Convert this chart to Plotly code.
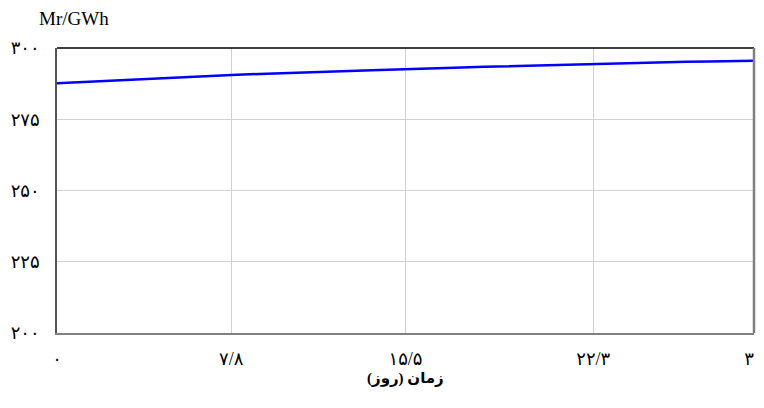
import plotly.graph_objects as go

days = list(range(32))
values = [287.6, 288.0, 288.4, 288.8, 289.1, 289.5, 289.9, 290.2, 290.6, 290.9,
          291.1, 291.4, 291.7, 291.9, 292.2, 292.5, 292.7, 292.9, 293.2, 293.4,
          293.6, 293.8, 294.1, 294.3, 294.6, 294.8, 294.9, 295.1, 295.2, 295.3,
          295.4, 295.5]

x_tickvals = [0, 7.75, 15.5, 23.85, 31]
x_ticktext = ["۰", "۷/۸", "۱۵/۵", "۲۲/۳", "۳۱"]
y_tickvals = [200, 225, 250, 275, 300]
y_ticktext = ["۲۰۰", "۲۲۵", "۲۵۰", "۲۷۵", "۳۰۰"]

font_fam = "Liberation Serif, DejaVu Serif, DejaVu Sans, serif"

fig = go.Figure()
fig.add_trace(go.Scatter(x=days, y=values, mode="lines",
                         line=dict(color="#0000ff", width=2.5), showlegend=False))

# page body has an 8px margin, so the figure is shifted 8px right/down
fig.update_layout(
    width=756, height=400,
    margin=dict(l=49, r=10, t=40, b=75),
    paper_bgcolor="white", plot_bgcolor="white",
    font=dict(family=font_fam, size=18, color="black"),
    xaxis=dict(range=[0, 31], tickvals=x_tickvals, ticktext=x_ticktext,
               showgrid=True, gridcolor="#d0d0d0", gridwidth=1, automargin=False,
               zeroline=False, showline=True, linecolor="#808080", linewidth=2,
               ticks="", tickfont=dict(size=18), ticklabelstandoff=8,
               ticklabeloverflow="allow"),
    yaxis=dict(range=[200, 300], tickvals=y_tickvals, ticktext=y_ticktext,
               showgrid=True, gridcolor="#d0d0d0", gridwidth=1, automargin=False,
               zeroline=False, showline=True, linecolor="#555555", linewidth=1.5,
               ticks="", tickfont=dict(size=18), ticklabelstandoff=12),
    shapes=[
        dict(type="line", xref="paper", yref="paper", x0=0, x1=1, y0=1, y1=1,
             line=dict(color="black", width=1.5)),
        dict(type="line", xref="paper", yref="paper", x0=1, x1=1, y0=0, y1=1,
             line=dict(color="#808080", width=2.5)),
    ],
    annotations=[
        dict(text="Mr/GWh", xref="paper", yref="paper", x=0, y=1.0,
             xanchor="left", yanchor="middle", xshift=-20, yshift=30, showarrow=False,
             font=dict(size=19, family=font_fam)),
        dict(text="<b>زمان (روز)</b>", xref="paper", yref="paper", x=0.5, y=0,
             xanchor="center", yanchor="middle", yshift=-45, showarrow=False,
             font=dict(size=15, family=font_fam)),
    ],
)

fig.write_html("out.html")
